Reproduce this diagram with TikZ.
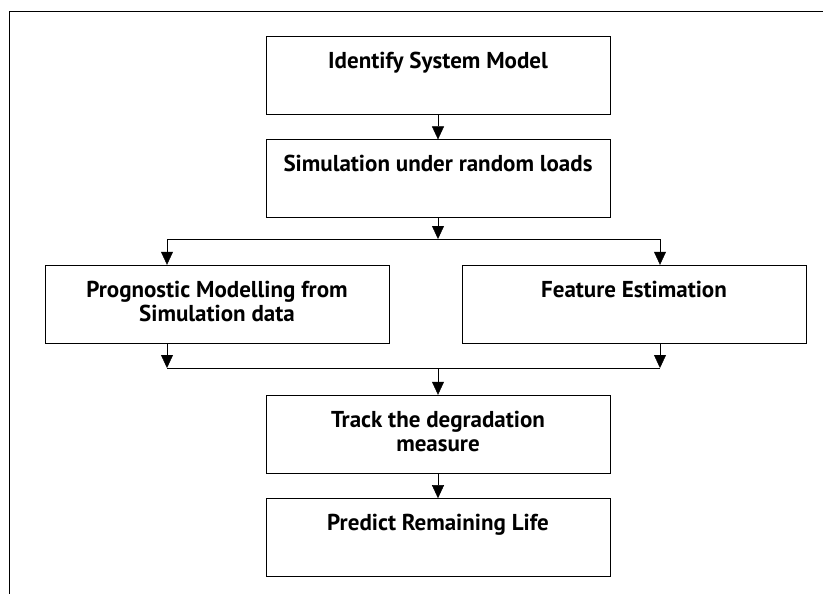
\documentclass[tikz,border=0pt]{standalone}
\usepackage{fontspec}
\setmainfont{PT Sans}
\usetikzlibrary{arrows.meta,positioning}
\tikzset{
	-{Triangle[length=13pt,width=12pt]},line width=1.2pt,
	box/.style={rectangle, draw, minimum width=344pt, minimum height=78pt, align=center,
		inner ysep=0pt, text height=32pt, text depth=46pt, font=\fontsize{23}{24.5}\selectfont\bfseries},
	twoline/.style={text height=56.5pt, text depth=21.5pt},
	plainline/.style={-}
}

\begin{document}
\begin{tikzpicture}[x=1pt,y=-1pt]
	\useasboundingbox (0,0) rectangle (823,594);
	\draw[plainline] (823,11) -- (9.5,11) -- (9.5,594);
	
	\node[box,anchor=north] (ident) at (438,36) {Identify System Model};
	\node[box] (sim) [below=25pt of ident] {Simulation under random loads};
	\node[box,twoline] (prog) [below=47pt of sim.south,xshift=-221pt] {Prognostic Modelling from\\Simulation data};
	\node[box] (feat) [below=47pt of sim.south,xshift=196pt] {Feature Estimation};
	\node[box,twoline] (track) [below=177pt of sim] {Track the degradation\\measure};
	\node[box] (life) [below=25pt of track] {Predict Remaining Life};
	
	\coordinate (fork) at (438,239);
	\coordinate (forkL) at (167,239);
	\coordinate (forkR) at (660,239);
	\coordinate (merge) at (438,368);
	\coordinate (mergeL) at (167,368);
	\coordinate (mergeR) at (660,368);
	
	\draw (ident) -- (sim);
	\draw (sim) -- (fork);
	\draw[plainline] (forkL) -- (forkR);
	\draw (forkL) -- (forkL |- prog.north);
	\draw (forkR) -- (forkR |- feat.north);
	\draw (prog.south -| mergeL) -- (mergeL);
	\draw (feat.south -| mergeR) -- (mergeR);
	\draw[plainline] (mergeL) -- (mergeR);
	\draw (merge) -- (track);
	\draw (track) -- (life);
\end{tikzpicture}
\end{document}
